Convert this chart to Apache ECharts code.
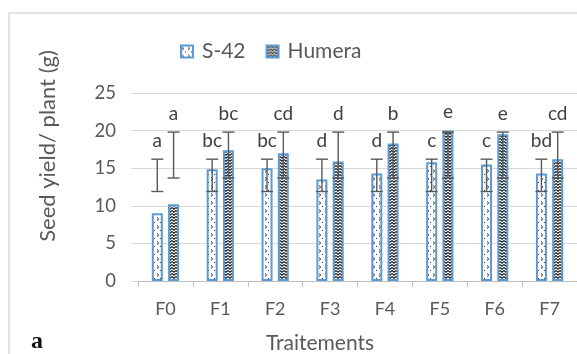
<!DOCTYPE html>
<html>
<head>
<meta charset="utf-8">
<script src="https://cdn.jsdelivr.net/npm/echarts@6/dist/echarts.min.js"></script>
<style>
html,body{margin:0;padding:0;background:#fff;}
#chart{width:577px;height:354px;}
</style>
</head>
<body>
<div id="chart"></div>
<script>
// ---- data ----
var categories = ['F0','F1','F2','F3','F4','F5','F6','F7'];
var s42 = [9.0, 14.85, 15.0, 13.5, 14.3, 15.8, 15.5, 14.3];
var humera = [10.2, 17.4, 17.0, 15.9, 18.3, 20.0, 19.5, 16.2];
var s42ErrLow = [11.9, 11.9, 11.9, 11.9, 11.9, 11.9, 11.9, 11.9];
var s42ErrHigh = [16.2, 16.2, 16.2, 16.2, 16.2, 16.2, 16.2, 16.2];
var humeraErrLow = [13.7, 13.7, 13.7, 13.7, 13.7, 13.7, 13.7, 13.7];
var humeraErrHigh = [19.8, 19.8, 19.8, 19.8, 19.8, 19.8, 19.8, 19.8];
var s42Letters = ['a','bc','bc','d','d','c','c','bd'];
var humeraLetters = ['a','bc','cd','d','b','e','e','cd'];
var yTicks = [0, 5, 10, 15, 20, 25];

// ---- patterns ----
function makeS42Pattern() {
  var c = document.createElement('canvas');
  c.width = 6; c.height = 8;
  var g = c.getContext('2d');
  g.fillStyle = '#fff'; g.fillRect(0, 0, 6, 8);
  g.strokeStyle = '#333'; g.lineWidth = 1;
  g.beginPath(); g.moveTo(1, 1.5); g.lineTo(2.8, 3); g.lineTo(1, 4.5); g.stroke();
  g.fillStyle = '#333'; g.fillRect(4, 6, 1, 1);
  return c;
}
function makeHumeraPattern() {
  var c = document.createElement('canvas');
  c.width = 4; c.height = 3;
  var g = c.getContext('2d');
  g.fillStyle = '#fff'; g.fillRect(0, 0, 4, 3);
  g.strokeStyle = '#111'; g.lineWidth = 1.1;
  g.beginPath(); g.moveTo(0, 0.5); g.lineTo(2, 2.2); g.lineTo(4, 0.5); g.stroke();
  return c;
}
var patS42 = { image: makeS42Pattern(), repeat: 'repeat' };
var patHum = { image: makeHumeraPattern(), repeat: 'repeat' };

var BAR_W = 11, GAP = 0.48;
var OFFSET = (BAR_W + BAR_W * GAP) / 2;
var FONT = 'Lato, "Open Sans", sans-serif';

function errRender(vals, lows, highs, letters, dir) {
  return function (params, api) {
    var i = params.dataIndex;
    var base = api.coord([i, 0]);
    var x = base[0] + dir * OFFSET;
    var yl = api.coord([i, lows[i]])[1];
    var yh = api.coord([i, highs[i]])[1];
    var yt = api.coord([i, Math.max(highs[i], vals[i])])[1];
    var st = { stroke: '#595959', lineWidth: 1.4 };
    return {
      type: 'group',
      children: [
        { type: 'line', shape: { x1: x, y1: yl, x2: x, y2: yh }, style: st },
        { type: 'line', shape: { x1: x - 6, y1: yl, x2: x + 6, y2: yl }, style: st },
        { type: 'line', shape: { x1: x - 6, y1: yh, x2: x + 6, y2: yh }, style: st },
        { type: 'text', style: { text: letters[i], x: x, y: yt - 9, align: 'center', verticalAlign: 'bottom',
          font: '19px ' + FONT, fill: '#404040' } }
      ]
    };
  };
}

var chart = echarts.init(document.getElementById('chart'), null, { renderer: 'canvas' });
chart.setOption({
  animation: false,
  backgroundColor: '#fff',
  grid: { left: 138, right: 0, top: 93, bottom: 73, containLabel: false },
  legend: {
    left: 175, top: 36,
    itemWidth: 12, itemHeight: 12, itemGap: 20,
    icon: 'rect',
    textStyle: { fontFamily: FONT, fontSize: 21, color: '#595959', padding: [0, 0, 0, 4] },
    data: ['S-42', 'Humera']
  },
  xAxis: {
    type: 'category',
    data: categories,
    axisLine: { lineStyle: { color: '#bfbfbf', width: 1 } },
    axisTick: { show: true, length: 6, lineStyle: { color: '#bfbfbf' } },
    axisLabel: { fontFamily: FONT, fontSize: 18, color: '#595959', margin: 19 }
  },
  yAxis: {
    type: 'value', min: yTicks[0], max: yTicks[yTicks.length - 1], interval: 5,
    axisLine: { show: false },
    axisTick: { show: true, length: 7, lineStyle: { color: '#d9d9d9' } },
    splitLine: { lineStyle: { color: '#d9d9d9', width: 1 } },
    axisLabel: { fontFamily: FONT, fontSize: 18.5, color: '#595959', margin: 22 }
  },
  graphic: [
    { type: 'rect', shape: { x: 9, y: 13, width: 700, height: 500 }, style: { fill: 'none', stroke: '#d9d9d9', lineWidth: 1.5 }, silent: true, z: -1 },
    { type: 'text', x: 48, y: 146, rotation: Math.PI / 2,
      style: { text: 'Seed yield/ plant (g)', font: '22px ' + FONT, fill: '#595959', align: 'center', verticalAlign: 'middle' } },
    { type: 'text', x: 320, y: 343,
      style: { text: 'Traitements', font: '21px ' + FONT, fill: '#595959', align: 'center', verticalAlign: 'middle' } },
    { type: 'text', x: 37, y: 342,
      style: { text: 'a', font: 'bold 24px "Liberation Serif", serif', fill: '#111', align: 'center', verticalAlign: 'middle' } }
  ],
  series: [
    { name: 'S-42', type: 'bar', data: s42, barWidth: BAR_W, barGap: (GAP * 100) + '%',
      itemStyle: { color: patS42, borderColor: '#5b9bd5', borderWidth: 2 } },
    { name: 'Humera', type: 'bar', data: humera, barWidth: BAR_W,
      itemStyle: { color: patHum, borderColor: '#5b9bd5', borderWidth: 2 } },
    { type: 'custom', name: 'errS42', z: 5, data: s42.map(function (v, i) { return [i, v]; }),
      renderItem: errRender(s42, s42ErrLow, s42ErrHigh, s42Letters, -1), silent: true },
    { type: 'custom', name: 'errHum', z: 5, data: humera.map(function (v, i) { return [i, v]; }),
      renderItem: errRender(humera, humeraErrLow, humeraErrHigh, humeraLetters, 1), silent: true }
  ]
});
</script>
</body>
</html>
